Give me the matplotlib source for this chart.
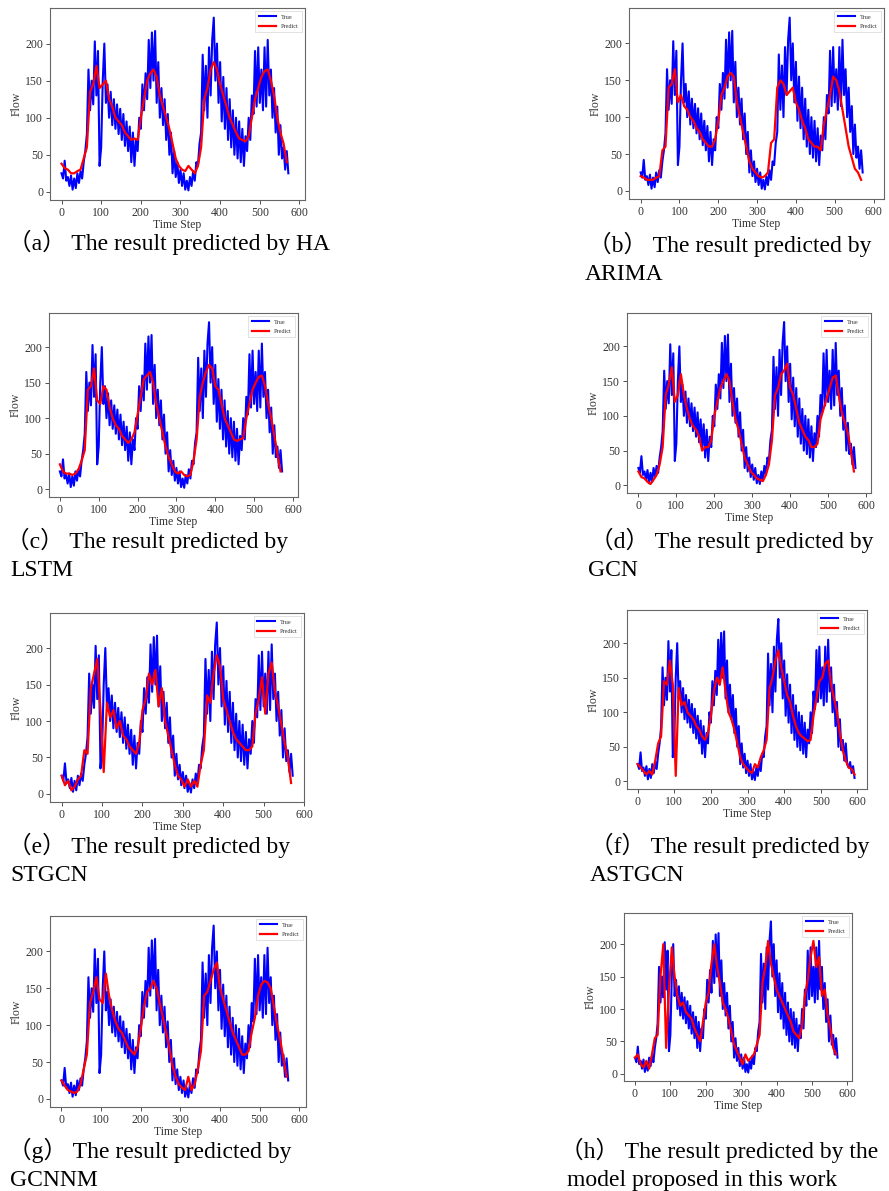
import numpy as np
import matplotlib
matplotlib.use('Agg')
import matplotlib.pyplot as plt

# observed flow, one value every 4 time steps
TRUE_FLOW = [25, 18, 42, 15, 20, 8, 22, 3, 18, 5, 25, 12, 28, 18, 40, 55, 78, 165, 110, 150,
             118, 203, 130, 190, 35, 60, 150, 200, 120, 145, 100, 135, 90, 125, 85, 118, 78, 112, 70, 105,
             62, 95, 55, 88, 40, 80, 35, 70, 55, 100, 85, 145, 110, 160, 125, 205, 140, 215, 150, 217,
             120, 175, 100, 140, 90, 125, 70, 105, 50, 80, 25, 55, 20, 40, 12, 30, 8, 25, 3, 15,
             2, 20, 8, 28, 15, 40, 35, 65, 80, 185, 110, 170, 100, 195, 130, 205, 235, 150, 200, 120,
             175, 95, 155, 85, 140, 70, 125, 60, 110, 50, 100, 45, 95, 40, 85, 35, 75, 55, 100, 70,
             130, 105, 190, 115, 195, 120, 165, 110, 195, 115, 205, 130, 165, 100, 140, 80, 115, 50, 90, 45,
             60, 30, 55, 25]
# panel (f) runs a little longer
TRUE_TAIL_F = [20, 28, 12, 22, 5]

# predictions, one value every 8 time steps
PRED_HA = [38, 32, 30, 25, 25, 28, 30, 45, 60, 135, 145, 170, 140, 145, 150, 125, 115, 100, 95, 90,
           80, 75, 70, 72, 70, 100, 125, 150, 160, 165, 155, 130, 115, 100, 85, 65, 45, 35, 30, 28,
           35, 30, 25, 35, 60, 125, 140, 165, 175, 165, 145, 130, 115, 100, 90, 80, 72, 70, 68, 75,
           100, 125, 140, 155, 163, 165, 150, 130, 100, 80, 65, 40]
PRED_ARIMA = [20, 18, 15, 15, 15, 18, 20, 55, 60, 140, 145, 165, 120, 130, 115, 110, 100, 95, 85, 80,
              70, 65, 60, 60, 70, 95, 130, 140, 155, 160, 155, 120, 100, 80, 60, 40, 30, 25, 20, 18,
              20, 25, 65, 70, 140, 150, 145, 130, 135, 140, 120, 110, 95, 85, 70, 65, 60, 60, 55, 90,
              110, 130, 155, 150, 135, 110, 85, 60, 45, 30, 25, 15]
PRED_LSTM = [35, 25, 22, 22, 20, 22, 28, 40, 55, 140, 145, 170, 125, 120, 145, 140, 115, 100, 90, 85,
             75, 70, 65, 70, 80, 105, 130, 155, 160, 165, 150, 120, 100, 80, 60, 45, 35, 25, 22, 25,
             20, 18, 20, 40, 70, 130, 150, 165, 175, 170, 145, 140, 120, 100, 90, 80, 70, 68, 70, 72,
             100, 120, 140, 150, 158, 160, 145, 120, 100, 75, 50, 25]
PRED_GCN = [20, 12, 10, 5, 2, 8, 15, 30, 55, 130, 145, 170, 120, 130, 160, 130, 110, 95, 85, 80,
            70, 50, 55, 55, 65, 100, 120, 140, 150, 160, 150, 120, 95, 80, 60, 40, 30, 20, 15, 10,
            8, 6, 15, 30, 65, 130, 140, 160, 165, 175, 140, 130, 110, 90, 80, 70, 65, 55, 55, 60,
            95, 110, 125, 140, 155, 158, 130, 105, 90, 75, 50, 20]
PRED_STGCN = [25, 12, 18, 5, 10, 20, 25, 60, 55, 145, 165, 185, 115, 30, 125, 105, 115, 90, 100, 80,
              75, 65, 60, 55, 70, 115, 130, 165, 150, 170, 120, 145, 100, 80, 60, 40, 25, 20, 10, 20,
              10, 18, 10, 40, 60, 135, 125, 165, 190, 175, 130, 115, 100, 85, 75, 70, 65, 60, 60, 65,
              110, 130, 160, 110, 165, 180, 140, 120, 95, 70, 50, 15]
PRED_ASTGCN = [25, 20, 15, 10, 15, 10, 30, 55, 65, 145, 140, 175, 140, 8, 135, 110, 115, 100, 95, 90,
               80, 75, 65, 60, 70, 95, 130, 150, 140, 165, 130, 100, 90, 75, 55, 35, 25, 20, 15, 12,
               25, 20, 35, 45, 60, 135, 150, 175, 190, 165, 145, 125, 115, 95, 80, 70, 65, 62, 58, 60,
               95, 120, 145, 150, 170, 175, 140, 120, 100, 70, 45, 30, 20, 18, 10]
PRED_GCNNM = [25, 18, 12, 10, 8, 10, 20, 40, 60, 130, 145, 165, 135, 130, 170, 140, 120, 105, 95, 90,
              80, 70, 65, 60, 70, 95, 125, 145, 150, 160, 150, 130, 110, 90, 70, 45, 30, 20, 15, 12,
              30, 12, 20, 40, 65, 140, 145, 160, 175, 185, 150, 135, 120, 105, 90, 80, 70, 60, 60, 65,
              90, 110, 140, 155, 160, 158, 150, 125, 100, 80, 55, 30]
PRED_OURS = [25, 30, 15, 10, 20, 8, 30, 55, 60, 150, 200, 40, 130, 195, 150, 120, 105, 110, 95, 90,
             85, 70, 60, 50, 80, 110, 125, 170, 200, 165, 140, 110, 100, 85, 65, 45, 35, 25, 15, 30,
             20, 25, 30, 45, 60, 140, 165, 205, 170, 150, 130, 120, 110, 100, 90, 80, 65, 60, 55, 75,
             120, 145, 180, 205, 165, 180, 120, 130, 90, 70, 40, 30]

CAPTIONS = [
    ('（a） The result predicted by HA', ''),
    ('（b） The result predicted by', 'ARIMA'),
    ('（c） The result predicted by', 'LSTM'),
    ('（d） The result predicted by', 'GCN'),
    ('（e） The result predicted by', 'STGCN'),
    ('（f） The result predicted by', 'ASTGCN'),
    ('（g） The result predicted by', 'GCNNM'),
    ('（h） The result predicted by the', 'model proposed in this work'),
]
PREDS = [PRED_HA, PRED_ARIMA, PRED_LSTM, PRED_GCN, PRED_STGCN, PRED_ASTGCN, PRED_GCNNM, PRED_OURS]

W, H = 889, 1191
# axes frames in pixels: left, top, right, bottom
BOXES = [(50, 8, 305, 200), (629, 8, 884, 199),
         (49, 313, 298, 497), (627, 313, 871, 493),
         (50, 613, 304, 802), (627, 610, 867, 789),
         (50, 916, 306, 1107), (624, 913, 852, 1081)]
XLIMS = [(-29, 614), (-30, 627), (-28, 613), (-30, 613),
         (-29, 600), (-29, 626), (-29, 617), (-31, 613)]
# caption placement: x line1, x line2, baseline line1
CAP_POS = [(8, 10, 250), (588, 585, 252), (6, 10, 548), (590, 588, 548),
           (8, 10, 853), (590, 590, 853), (8, 10, 1158), (560, 567, 1158)]

SERIF = ['Liberation Serif', 'DejaVu Serif']
CAP_FONT = ['Liberation Serif', 'Noto Sans CJK SC']
GREY = '#333333'

fig = plt.figure(figsize=(W / 100, H / 100), dpi=100)

for i, (box, xl, pred) in enumerate(zip(BOXES, XLIMS, PREDS)):
    l, t, r, b = box
    ax = fig.add_axes([l / W, 1 - b / H, (r - l) / W, (b - t) / H])
    true = TRUE_FLOW + (TRUE_TAIL_F if i == 5 else [])
    xt = np.arange(len(true)) * 4
    xp = np.arange(len(pred)) * 8
    ax.plot(xt, true, color='#0000ff', lw=1.5, label='True')
    ax.plot(xp, pred, color='#ff0000', lw=1.6, label='Predict')
    ax.set_xlim(*xl)
    ax.set_ylim(-11, 248)
    ax.set_xticks([0, 100, 200, 300, 400, 500, 600])
    ax.set_yticks([0, 50, 100, 150, 200])
    for s in ax.spines.values():
        s.set_color('#666666')
        s.set_linewidth(0.8)
    ax.tick_params(labelsize=8.5, colors=GREY, length=3, width=0.6, pad=2)
    for lab in ax.get_xticklabels() + ax.get_yticklabels():
        lab.set_family(SERIF)
    ax.set_xlabel('Time Step', fontsize=8.5, family=SERIF, color=GREY, labelpad=0)
    ax.set_ylabel('Flow', fontsize=8.5, family=SERIF, color=GREY, labelpad=2)
    leg = ax.legend(loc='upper right', prop={'family': SERIF, 'size': 4.5},
                    handlelength=2.8, borderpad=0.5, labelspacing=0.6, fancybox=False)
    leg.get_frame().set_edgecolor('#cccccc')
    leg.get_frame().set_linewidth(0.5)
    for txt in leg.get_texts():
        txt.set_color(GREY)

    line1, line2 = CAPTIONS[i]
    x1, x2, y1 = CAP_POS[i]
    fig.text(x1 / W, 1 - y1 / H, line1, fontsize=17, family=CAP_FONT, va='baseline', ha='left')
    if line2:
        fig.text(x2 / W, 1 - (y1 + 28) / H, line2, fontsize=17, family=CAP_FONT,
                 va='baseline', ha='left')

fig.savefig('out.png', dpi=100)
